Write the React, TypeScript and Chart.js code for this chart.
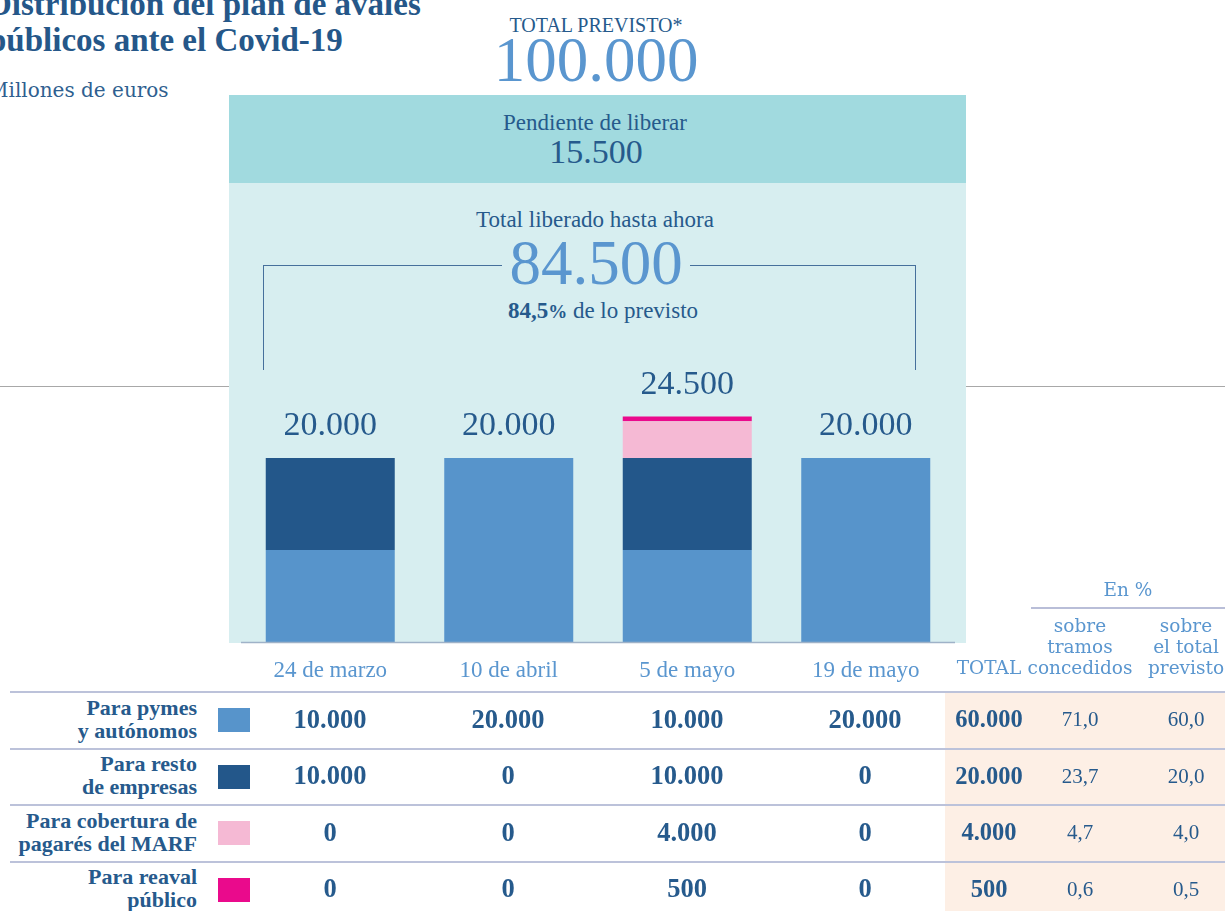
import React, { useEffect, useRef } from "react";
import { Chart, registerables } from "chart.js";

Chart.register(...registerables);

// ---------- data ----------
const categories = ["24 de marzo", "10 de abril", "5 de mayo", "19 de mayo"];
const pymes = [10000, 20000, 10000, 20000];
const resto = [10000, 0, 10000, 0];
const marf = [0, 0, 4000, 0];
const reaval = [0, 0, 500, 0];
const seriesNames = [
  ["Para pymes", "y autónomos"],
  ["Para resto", "de empresas"],
  ["Para cobertura de", "pagarés del MARF"],
  ["Para reaval", "público"],
];
const pctTramos = [71.0, 23.7, 4.7, 0.6];
const pctTotal = [60.0, 20.0, 4.0, 0.5];
const totalPrevisto = 100000;
const totalLiberado = 84500;
const pendiente = 15500;
const pctLiberado = 84.5;
const yMax = 30000;

// ---------- styles ----------
const seriesColors = ["#5794cb", "#23578a", "#f5b9d4", "#ea0a8c"];
const DARK = "#265a8c";
const LIGHT = "#5a96cf";
const SERIF = "'Liberation Serif', serif";
const DEJAVU = "'DejaVu Serif', serif";

const fmt = (n: number) => String(Math.round(n)).replace(/\B(?=(\d{3})+(?!\d))/g, ".");
const fmtPct = (n: number) => n.toFixed(1).replace(".", ",");

type TP = {
  x: number;
  base: number;
  size: number;
  children: React.ReactNode;
  font?: string;
  weight?: number | string;
  color?: string;
  align?: "left" | "center" | "right";
};

function T({ x, base, size, children, font = SERIF, weight = 400, color = DARK, align = "center" }: TP) {
  const k = font === DEJAVU ? 0.846 : 0.8375;
  const top = base - k * size;
  const style: React.CSSProperties = {
    position: "absolute",
    top,
    fontFamily: font,
    fontSize: size,
    lineHeight: `${size}px`,
    fontWeight: weight as any,
    color,
    whiteSpace: "nowrap",
    textAlign: align,
  };
  if (align === "center") {
    style.left = x - 500;
    style.width = 1000;
  } else if (align === "right") {
    style.left = x - 1000;
    style.width = 1000;
  } else {
    style.left = x;
  }
  return <div style={style}>{children}</div>;
}

function Box({ x, y, w, h, c }: { x: number; y: number; w: number; h: number; c: string }) {
  return <div style={{ position: "absolute", left: x, top: y, width: w, height: h, background: c }} />;
}

export default function App() {
  const ref = useRef<HTMLCanvasElement | null>(null);

  useEffect(() => {
    if (!ref.current) return;
    const labelPlugin = {
      id: "labels",
      afterDatasetsDraw(chart: any) {
        const ctx = chart.ctx;
        const { left, right, bottom } = chart.chartArea;
        ctx.save();
        ctx.strokeStyle = "#9fb2c8";
        ctx.lineWidth = 1.5;
        ctx.beginPath();
        ctx.moveTo(left, bottom + 0.5);
        ctx.lineTo(right, bottom + 0.5);
        ctx.stroke();
        ctx.textAlign = "center";
        ctx.textBaseline = "alphabetic";
        categories.forEach((cat, i) => {
          const x = chart.scales.x.getPixelForValue(i);
          const total = pymes[i] + resto[i] + marf[i] + reaval[i];
          const y = chart.scales.y.getPixelForValue(total);
          ctx.fillStyle = DARK;
          ctx.font = `34px ${SERIF}`;
          ctx.fillText(fmt(total), x, y - 23);
          ctx.fillStyle = LIGHT;
          ctx.font = `23px ${SERIF}`;
          ctx.fillText(cat, x, bottom + 35);
        });
        ctx.restore();
      },
    };
    const ds = [pymes, resto, marf, reaval].map((d, i) => ({
      label: seriesNames[i].join(" "),
      data: d,
      backgroundColor: seriesColors[i],
      borderWidth: 0,
      categoryPercentage: 0.7227,
      barPercentage: 1,
    }));
    const chart = new Chart(ref.current, {
      type: "bar",
      data: { labels: categories, datasets: ds },
      options: {
        responsive: false,
        animation: false,
        devicePixelRatio: 1,
        layout: { padding: { left: 12, right: 11, top: 20, bottom: 58 } },
        plugins: { legend: { display: false }, tooltip: { enabled: false } },
        scales: {
          x: { stacked: true, display: false },
          y: { stacked: true, display: false, min: 0, max: yMax },
        },
      },
      plugins: [labelPlugin],
    } as any);
    return () => chart.destroy();
  }, []);

  const rowTops = [692, 748.5, 805, 861.5];
  const colX = [330, 508, 687, 865];
  const series = [pymes, resto, marf, reaval];

  return (
    <div
      style={{
        position: "absolute",
        left: 0,
        top: 0,
        width: 1225,
        height: 911,
        overflow: "hidden",
        background: "#ffffff",
      }}
    >
      {/* gray rule behind panel */}
      <Box x={0} y={386} w={1225} h={1} c="#a8a8a8" />
      {/* panels */}
      <Box x={229} y={95} w={737} h={88} c="#a1dadf" />
      <Box x={229} y={183} w={737} h={460} c="#d7eef0" />

      {/* title */}
      <T x={-12} base={16} size={33} weight={700} align="left" color="#255789">
        Distribución del plan de avales
      </T>
      <T x={-12} base={52} size={33} weight={700} align="left" color="#255789">
        públicos ante el Covid-19
      </T>
      <T x={-12} base={97} size={20} font={DEJAVU} align="left" color="#2f5f90">
        Millones de euros
      </T>

      {/* headline totals */}
      <T x={596} base={32} size={20}>TOTAL PREVISTO*</T>
      <T x={596} base={82} size={63} color={LIGHT}>{fmt(totalPrevisto)}</T>
      <T x={595} base={130} size={23}>Pendiente de liberar</T>
      <T x={596} base={163} size={34}>{fmt(pendiente)}</T>
      <T x={595} base={227} size={23}>Total liberado hasta ahora</T>
      <T x={596} base={285} size={63} color={LIGHT}>{fmt(totalLiberado)}</T>
      <T x={603} base={318} size={23}>
        <b>{fmtPct(pctLiberado)}</b>
        <b style={{ fontSize: 19 }}>%</b> de lo previsto
      </T>

      {/* bracket */}
      <Box x={263} y={265} w={239} h={1} c="#46709c" />
      <Box x={690} y={265} w={226} h={1} c="#46709c" />
      <Box x={263} y={265} w={1} h={105} c="#46709c" />
      <Box x={915} y={265} w={1} h={105} c="#46709c" />

      {/* chart */}
      <canvas
        ref={ref}
        width={737}
        height={354}
        style={{ position: "absolute", left: 229, top: 346, width: 737, height: 354 }}
      />

      {/* table header */}
      <T x={1128} base={597} size={18.5} font={DEJAVU} color={LIGHT}>En %</T>
      <Box x={1031} y={607} w={194} h={2} c="#b9bed8" />
      <T x={1080} base={633} size={18.5} font={DEJAVU} color={LIGHT}>sobre</T>
      <T x={1080} base={654} size={18.5} font={DEJAVU} color={LIGHT}>tramos</T>
      <T x={1080} base={675} size={18.5} font={DEJAVU} color={LIGHT}>concedidos</T>
      <T x={1186} base={633} size={18.5} font={DEJAVU} color={LIGHT}>sobre</T>
      <T x={1186} base={654} size={18.5} font={DEJAVU} color={LIGHT}>el total</T>
      <T x={1186} base={675} size={18.5} font={DEJAVU} color={LIGHT}>previsto</T>
      <T x={989} base={675} size={18.5} font={DEJAVU} color={LIGHT}>TOTAL</T>

      {/* table body */}
      <Box x={945} y={693} w={280} h={218} c="#fdefe5" />
      {rowTops.map((t, i) => (
        <Box key={"l" + i} x={10} y={t - 1} w={1215} h={2} c="#bcc2da" />
      ))}
      {series.map((s, i) => {
        const c = rowTops[i] + 28;
        const total = s.reduce((a, b) => a + b, 0);
        return (
          <React.Fragment key={"r" + i}>
            <T x={197} base={c - 5} size={22} weight={700} align="right">{seriesNames[i][0]}</T>
            <T x={197} base={c + 18} size={22} weight={700} align="right">{seriesNames[i][1]}</T>
            <Box x={218} y={c - 12} w={32} h={24} c={seriesColors[i]} />
            {s.map((v, j) => (
              <T key={j} x={colX[j]} base={c + 8} size={26.5} weight={700}>{fmt(v)}</T>
            ))}
            <T x={989} base={c + 8} size={24.5} weight={700}>{fmt(total)}</T>
            <T x={1080} base={c + 7} size={21}>{fmtPct(pctTramos[i])}</T>
            <T x={1186} base={c + 7} size={21}>{fmtPct(pctTotal[i])}</T>
          </React.Fragment>
        );
      })}
    </div>
  );
}
